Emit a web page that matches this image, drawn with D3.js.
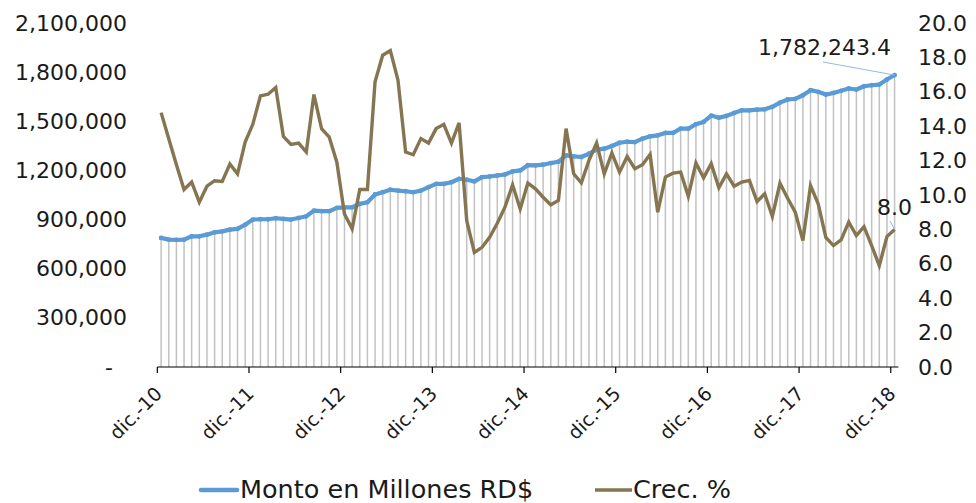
<!DOCTYPE html>
<html>
<head>
<meta charset="utf-8">
<script src="https://cdn.jsdelivr.net/npm/d3@7"></script>
<style>
  html, body { margin: 0; padding: 0; background: #ffffff; }
  svg { display: block; }
  text { font-family: "DejaVu Sans", sans-serif; fill: #1a1a1a; }
</style>
</head>
<body>
<svg id="chart" width="976" height="503"></svg>
<script>
const categories = [
 "dic.-10","ene.-11","feb.-11","mar.-11","abr.-11","may.-11","jun.-11","jul.-11","ago.-11","sept.-11","oct.-11","nov.-11",
 "dic.-11","ene.-12","feb.-12","mar.-12","abr.-12","may.-12","jun.-12","jul.-12","ago.-12","sept.-12","oct.-12","nov.-12",
 "dic.-12","ene.-13","feb.-13","mar.-13","abr.-13","may.-13","jun.-13","jul.-13","ago.-13","sept.-13","oct.-13","nov.-13",
 "dic.-13","ene.-14","feb.-14","mar.-14","abr.-14","may.-14","jun.-14","jul.-14","ago.-14","sept.-14","oct.-14","nov.-14",
 "dic.-14","ene.-15","feb.-15","mar.-15","abr.-15","may.-15","jun.-15","jul.-15","ago.-15","sept.-15","oct.-15","nov.-15",
 "dic.-15","ene.-16","feb.-16","mar.-16","abr.-16","may.-16","jun.-16","jul.-16","ago.-16","sept.-16","oct.-16","nov.-16",
 "dic.-16","ene.-17","feb.-17","mar.-17","abr.-17","may.-17","jun.-17","jul.-17","ago.-17","sept.-17","oct.-17","nov.-17",
 "dic.-17","ene.-18","feb.-18","mar.-18","abr.-18","may.-18","jun.-18","jul.-18","ago.-18","sept.-18","oct.-18","nov.-18",
 "dic.-18"
];

const tickLabels = ["dic.-10","dic.-11","dic.-12","dic.-13","dic.-14","dic.-15","dic.-16","dic.-17","dic.-18"];

const monto = [
 788000, 777500, 775700, 777500, 797900, 797900, 808000, 822000, 828000, 838800, 843000, 869000,
 900000, 902000, 902000, 908000, 904000, 900000, 910000, 920000, 955000, 951000, 951000, 971500,
 975000, 975000, 996000, 1006000, 1053000, 1067000, 1082000, 1077000, 1073000, 1067000, 1077000, 1098000,
 1118000, 1118000, 1128000, 1149000, 1143000, 1133000, 1159000, 1163000, 1169000, 1175000, 1194000, 1200000,
 1232000, 1231000, 1235000, 1245000, 1253000, 1292000, 1286000, 1282000, 1302000, 1327000, 1333000, 1349000,
 1369000, 1375000, 1373000, 1394000, 1408000, 1414000, 1429000, 1429000, 1455000, 1455000, 1482000, 1496000,
 1535000, 1522000, 1533000, 1551000, 1567000, 1567000, 1571000, 1573000, 1588000, 1614000, 1633000, 1637000,
 1659000, 1690000, 1680000, 1663000, 1673000, 1686000, 1700000, 1694000, 1714000, 1720000, 1724000, 1755000,
 1782243.4
];

const crec = [
 14.79, 13.27, 11.76, 10.32, 10.75, 9.58, 10.51, 10.83, 10.79, 11.80, 11.23, 13.08,
 14.11, 15.76, 15.86, 16.25, 13.41, 12.94, 13.02, 12.50, 15.84, 13.86, 13.37, 11.91,
 8.90, 8.03, 10.32, 10.32, 16.58, 18.13, 18.39, 16.68, 12.50, 12.34, 13.28, 13.02,
 13.86, 14.11, 13.02, 14.19, 8.51, 6.66, 6.96, 7.54, 8.36, 9.29, 10.59, 9.19,
 10.69, 10.36, 9.87, 9.43, 9.68, 13.86, 11.23, 10.71, 12.01, 13.02, 11.23, 12.44,
 11.33, 12.24, 11.53, 11.76, 12.36, 9.00, 11.04, 11.27, 11.33, 9.93, 11.86, 11.00,
 11.82, 10.42, 11.23, 10.51, 10.75, 10.85, 9.62, 10.07, 8.75, 10.69, 9.81, 9.00,
 7.35, 10.55, 9.49, 7.54, 7.06, 7.39, 8.42, 7.64, 8.16, 7.06, 5.89, 7.58,
 8.0
];

const leftTicks = [0, 300000, 600000, 900000, 1200000, 1500000, 1800000, 2100000];
const rightTicks = [0, 2, 4, 6, 8, 10, 12, 14, 16, 18, 20];
const seriesNames = ["Monto en Millones RD$", "Crec. %"];

const blue = "#5B9BD5", brown = "#857550", barGray = "#c2c2c2";

const svg = d3.select("#chart");
const x = d3.scaleBand().domain(categories).range([157.3, 898.4]).padding(0);
const yL = d3.scaleLinear().domain([0, 2100000]).range([367, 23]);
const yR = d3.scaleLinear().domain([0, 20]).range([367, 23]);
const cx = d => x(d) + x.bandwidth() / 2;

// bars
svg.append("g").selectAll("rect").data(categories).join("rect")
  .attr("x", (d) => cx(d) - 0.75)
  .attr("width", 1.5)
  .attr("y", (d, i) => yL(monto[i]))
  .attr("height", (d, i) => yL(0) - yL(monto[i]))
  .attr("fill", barGray);

// x axis
const xAxis = d3.axisBottom(x).tickValues(tickLabels).tickSize(6).tickFormat("");
const gx = svg.append("g").attr("transform", "translate(0,367)").call(xAxis);
gx.select(".domain").attr("stroke", "#000").attr("stroke-width", 1.2).attr("d", "M157.3,0H898.4");
gx.selectAll(".tick").attr("transform", d => `translate(${x(d)},0)`);
gx.selectAll(".tick line").attr("stroke", "#000").attr("stroke-width", 1.2);
svg.append("g").selectAll("text").data(tickLabels).join("text")
  .attr("transform", d => `translate(${x(d) + 6},395) rotate(-45)`)
  .attr("text-anchor", "end")
  .attr("font-size", 19)
  .text(d => d);

// left axis
const fmtL = d3.format(",");
const gl = svg.append("g").attr("transform", "translate(127,0)")
  .call(d3.axisLeft(yL).tickValues(leftTicks).tickSize(0).tickPadding(0)
    .tickFormat(d => d === 0 ? "-" : fmtL(d)));
gl.select(".domain").remove();
gl.selectAll("text").attr("font-size", 22).attr("font-family", "DejaVu Sans").attr("fill", "#1a1a1a")
  .attr("dx", d => d === 0 ? -14 : 0);

// right axis
const gr = svg.append("g").attr("transform", "translate(918,0)")
  .call(d3.axisRight(yR).tickValues(rightTicks).tickSize(0).tickPadding(0).tickFormat(d3.format(".1f")));
gr.select(".domain").remove();
gr.selectAll("text").attr("font-size", 22).attr("font-family", "DejaVu Sans").attr("fill", "#1a1a1a");

// blue line
const lineL = d3.line().x((d, i) => cx(categories[i])).y(d => yL(d));
svg.append("path").datum(monto).attr("d", lineL)
  .attr("fill", "none").attr("stroke", blue).attr("stroke-width", 4.2)
  .attr("stroke-linejoin", "round").attr("stroke-linecap", "round");
svg.append("g").selectAll("circle").data(monto).join("circle")
  .attr("cx", (d, i) => cx(categories[i])).attr("cy", d => yL(d)).attr("r", 2.4).attr("fill", blue);

// brown line
const lineR = d3.line().x((d, i) => cx(categories[i])).y(d => yR(d));
svg.append("path").datum(crec).attr("d", lineR)
  .attr("fill", "none").attr("stroke", brown).attr("stroke-width", 3.4)
  .attr("stroke-linejoin", "miter").attr("stroke-linecap", "butt");

// annotations
const last = categories.length - 1;
const lx = cx(categories[last]);
svg.append("line").attr("x1", 823).attr("y1", 62).attr("x2", lx).attr("y2", yL(monto[last]))
  .attr("stroke", "#8fbbe6").attr("stroke-width", 1);
svg.append("text").attr("x", 758).attr("y", 55).attr("font-size", 22).attr("font-weight", 500)
  .text(d3.format(",.1f")(monto[last]));
svg.append("line").attr("x1", 890).attr("y1", 221).attr("x2", lx).attr("y2", yR(crec[last]))
  .attr("stroke", "#8fbbe6").attr("stroke-width", 1);
svg.append("text").attr("x", 877).attr("y", 215).attr("font-size", 22).attr("font-weight", 500)
  .text(d3.format(".1f")(crec[last]));

// legend
const leg = svg.append("g");
leg.append("line").attr("x1", 201).attr("x2", 237).attr("y1", 490).attr("y2", 490)
  .attr("stroke", blue).attr("stroke-width", 4.5).attr("stroke-linecap", "round");
leg.append("text").attr("x", 240).attr("y", 497.5).attr("font-size", 25.5).text(seriesNames[0]);
leg.append("line").attr("x1", 595).attr("x2", 632).attr("y1", 490).attr("y2", 490)
  .attr("stroke", brown).attr("stroke-width", 3.6);
leg.append("text").attr("x", 633).attr("y", 497.5).attr("font-size", 25.5).text(seriesNames[1]);
</script>
</body>
</html>
